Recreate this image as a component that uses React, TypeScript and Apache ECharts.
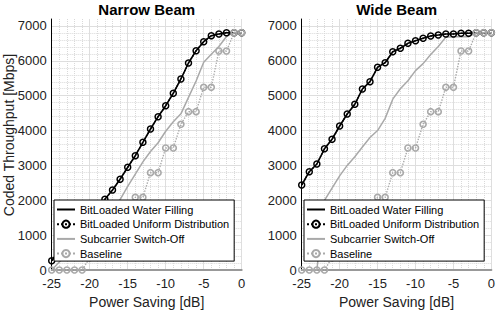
import { useEffect, useRef } from "react";
import * as echarts from "echarts";

// Power saving steps [dB]
const powerSaving = [
  -25, -24, -23, -22, -21, -20, -19, -18, -17, -16, -15, -14, -13,
  -12, -11, -10, -9, -8, -7, -6, -5, -4, -3, -2, -1, 0,
];

// Narrow beam, coded throughput [Mbps]
const narrowWaterFilling = [
  267, 560, 840, 1110, 1370, 1580, 1800, 2028, 2295, 2602, 2946, 3279, 3663,
  4045, 4398, 4713, 5069, 5479, 5938, 6291, 6549, 6721, 6770, 6807, 6807, 6807,
];
const narrowUniform = [
  267, 560, 840, 1110, 1370, 1580, 1800, 2028, 2295, 2602, 2946, 3279, 3663,
  4045, 4398, 4713, 5069, 5479, 5938, 6291, 6549, 6721, 6770, 6807, 6807, 6807,
];
const narrowSwitchOff = [
  0, 230, 450, 680, 900, 1120, 1350, 1570, 1790, 2020, 2400, 2750, 3100,
  3400, 3650, 3980, 4250, 4480, 4950, 5420, 5960, 6190, 6410, 6700, 6807, 6807,
];
const narrowBaseline = [
  0, 0, 0, 0, 0, 350, 700, 1040, 1390, 1390, 1740, 2085, 2085,
  2791, 2791, 3500, 3500, 4180, 4541, 4541, 5241, 5241, 6282, 6282, 6807, 6807,
];

// Wide beam, coded throughput [Mbps]
const wideWaterFilling = [
  2438, 2820, 3041, 3477, 3750, 4131, 4475, 4753, 5192, 5402, 5815, 5947, 6262,
  6360, 6503, 6578, 6647, 6713, 6741, 6770, 6770, 6790, 6790, 6807, 6807, 6807,
];
const wideUniform = [
  2438, 2820, 3041, 3477, 3750, 4131, 4475, 4753, 5192, 5402, 5815, 5947, 6262,
  6360, 6503, 6578, 6647, 6713, 6741, 6770, 6770, 6790, 6790, 6807, 6807, 6807,
];
const wideSwitchOff = [
  0, 0, 0, 2000, 2350, 2700, 3000, 3250, 3530, 3800, 4000, 4350, 4900,
  5200, 5430, 5720, 5920, 6180, 6410, 6680, 6690, 6690, 6690, 6807, 6807, 6807,
];
const wideBaseline = [
  0, 0, 0, 0, 350, 700, 1040, 1390, 1390, 1740, 2085, 2085, 2791,
  2791, 3500, 3500, 4180, 4541, 4541, 5241, 5241, 6282, 6282, 6807, 6807, 6807,
];

const panelTitles = ["Narrow Beam", "Wide Beam"];
const seriesNames = [
  "BitLoaded Water Filling",
  "BitLoaded Uniform Distribution",
  "Subcarrier Switch-Off",
  "Baseline",
];
const xAxisTitle = "Power Saving [dB]";
const yAxisTitle = "Coded Throughput [Mbps]";

const FONT = "'Liberation Sans', Arial, Helvetica, sans-serif";
const GRAY = "#a9a9a9";
const HIDDEN = "rgba(0,0,0,0)";
const GRID_LEFTS = [51.7, 301.7];
const GRID_TOP = 19;
const GRID_W = 190;
const GRID_H = 251;

const pairs = (ys: number[]) => powerSaving.map((x, i) => [x, ys[i]]);

function panelSeries(g: number, wf: number[], uni: number[], sw: number[], base: number[]) {
  const axes = { xAxisIndex: g, yAxisIndex: g * 2 + 1 };
  return [
    {
      name: seriesNames[0],
      type: "line",
      ...axes,
      data: pairs(wf),
      symbol: "none",
      lineStyle: { color: "#000", width: 1.6 },
      itemStyle: { color: "#000" },
      z: 2,
    },
    {
      name: seriesNames[1],
      type: "line",
      ...axes,
      data: pairs(uni),
      symbol: "circle",
      symbolSize: 6,
      lineStyle: { color: "#000", width: 1.4, type: "dotted" },
      itemStyle: { color: HIDDEN, borderColor: "#000", borderWidth: 1.5 },
      z: 2,
    },
    {
      name: seriesNames[2],
      type: "line",
      ...axes,
      data: pairs(sw),
      symbol: "none",
      lineStyle: { color: GRAY, width: 1.5 },
      itemStyle: { color: GRAY },
      z: 2,
    },
    {
      name: seriesNames[3],
      type: "line",
      ...axes,
      data: pairs(base),
      symbol: "circle",
      symbolSize: 6,
      lineStyle: { color: GRAY, width: 1.4, type: "dotted" },
      itemStyle: { color: HIDDEN, borderColor: GRAY, borderWidth: 1.6 },
      z: 3,
    },
  ];
}

function buildOption() {
  const grids = GRID_LEFTS.map((left) => ({
    left,
    top: GRID_TOP,
    width: GRID_W,
    height: GRID_H,
    containLabel: false,
  }));

  const xAxes = GRID_LEFTS.map((_, g) => ({
    type: "value",
    gridIndex: g,
    position: "bottom",
    min: -25,
    max: 0,
    interval: 5,
    axisLine: { show: true, onZero: false, lineStyle: { color: "#999", width: 2 } },
    axisTick: { show: false },
    axisLabel: { margin: 7, fontSize: 13, color: "#222", fontFamily: FONT },
    splitLine: { show: true, lineStyle: { color: "#dedede", width: 1 } },
    minorTick: { show: false, splitNumber: 5 },
    minorSplitLine: { show: true, lineStyle: { color: "#d9d9d9", type: "dotted", width: 1 } },
    name: xAxisTitle,
    nameLocation: "middle",
    nameGap: 24,
    nameTextStyle: { fontSize: 14, color: "#222", fontFamily: FONT },
  }));

  const yAxes: any[] = [];
  GRID_LEFTS.forEach((_, g) => {
    // fine dotted grid every 200 Mbps
    yAxes.push({
      type: "value",
      gridIndex: g,
      position: "left",
      offset: 0,
      min: 0,
      max: 7200,
      interval: 200,
      axisLine: { show: false },
      axisTick: { show: false },
      axisLabel: { show: false },
      splitLine: { show: true, showMaxLine: false, lineStyle: { color: "#d9d9d9", type: "dotted", width: 1 } },
    });
    // labelled axis with solid grid every 1000 Mbps
    yAxes.push({
      type: "value",
      gridIndex: g,
      position: "left",
      offset: 0,
      min: 0,
      max: 7200,
      interval: 1000,
      axisLine: { show: true, onZero: false, lineStyle: { color: "#000", width: 1 } },
      axisTick: { show: false },
      axisLabel: {
        margin: 5,
        fontSize: 13,
        color: "#222",
        fontFamily: FONT,
        formatter: (v: number) => (v % 1000 === 0 ? String(v) : ""),
      },
      splitLine: { show: true, showMaxLine: false, lineStyle: { color: "#dedede", width: 1 } },
    });
  });

  // legend entries: plain lines for the marker-less series
  const legendData = seriesNames.map((name, i) =>
    i === 0 || i === 2 ? { name, itemStyle: { color: HIDDEN, borderWidth: 0 } } : { name }
  );

  const legends = GRID_LEFTS.map((left) => ({
    orient: "vertical",
    left: left + 2.3,
    top: 200,
    z: 10,
    itemWidth: 18,
    itemHeight: 9,
    itemGap: 3.7,
    padding: [4, 5, 2, 2],
    backgroundColor: "#fff",
    borderColor: "#000",
    borderWidth: 1,
    borderRadius: 0,
    selectedMode: false,
    textStyle: { fontSize: 11, color: "#000", fontFamily: FONT, lineHeight: 11 },
    data: legendData,
  }));

  const graphic = [
    ...panelTitles.map((t, g) => ({
      type: "text",
      x: GRID_LEFTS[g] + GRID_W / 2,
      y: 9,
      style: {
        text: t,
        align: "center",
        verticalAlign: "middle",
        font: `bold 15px ${FONT}`,
        fill: "#000",
      },
    })),
    {
      type: "text",
      x: 8.5,
      y: 135,
      rotation: Math.PI / 2,
      style: {
        text: yAxisTitle,
        align: "center",
        verticalAlign: "middle",
        font: `14px ${FONT}`,
        fill: "#222",
      },
    },
  ];

  return {
    animation: false,
    backgroundColor: "#fff",
    textStyle: { fontFamily: FONT },
    grid: grids,
    xAxis: xAxes,
    yAxis: yAxes,
    legend: legends,
    graphic,
    series: [
      ...panelSeries(0, narrowWaterFilling, narrowUniform, narrowSwitchOff, narrowBaseline),
      ...panelSeries(1, wideWaterFilling, wideUniform, wideSwitchOff, wideBaseline),
    ],
  };
}

export default function App() {
  const ref = useRef<HTMLDivElement>(null);
  useEffect(() => {
    if (!ref.current) return;
    const chart = echarts.init(ref.current, null, { renderer: "svg" });
    chart.setOption(buildOption() as any);
    return () => chart.dispose();
  }, []);
  return (
    <div
      ref={ref}
      style={{ position: "fixed", left: 0, top: 0, width: 498, height: 314, background: "#fff" }}
    />
  );
}
